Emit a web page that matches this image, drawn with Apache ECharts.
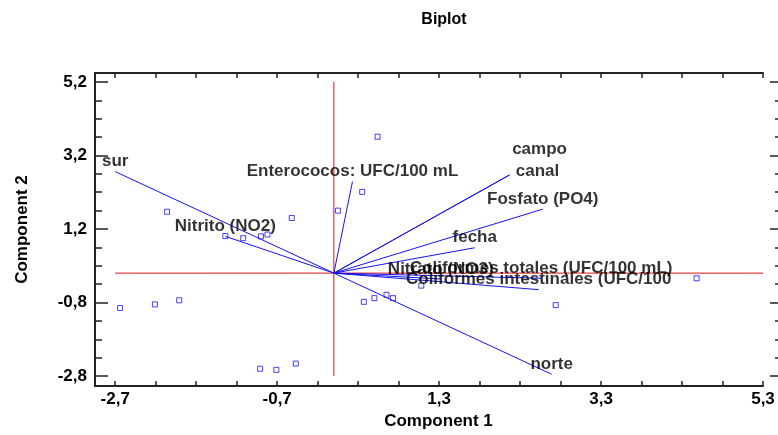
<!DOCTYPE html>
<html><head><meta charset="utf-8">
<script src="https://cdn.jsdelivr.net/npm/echarts@6/dist/echarts.min.js"></script>
<style>html,body{margin:0;padding:0;background:#fff}#c{width:778px;height:435px}</style>
</head><body><div id="c"></div>
<script>
// ---- data ----
const chartTitle = 'Biplot';
const xAxisTitle = 'Component 1';
const yAxisTitle = 'Component 2';
const xTickLabels = [-2.7, -0.7, 1.3, 3.3, 5.3];
const yTickLabels = [-2.8, -0.8, 1.2, 3.2, 5.2];
const xMinorTicks = [-2.7,-2.2,-1.7,-1.2,-0.7,-0.2,0.3,0.8,1.3,1.8,2.3,2.8,3.3,3.8,4.3,4.8,5.3];
const yMinorTicks = [-2.8,-2.3,-1.8,-1.3,-0.8,-0.3,0.2,0.7,1.2,1.7,2.2,2.7,3.2,3.7,4.2,4.7,5.2];
// observation scores
const obsX = [-2.06,-1.34,-1.12,-0.90,-0.82,-0.52,0.05,0.35,0.54,0.37,0.50,0.65,0.73,1.08,2.74,4.48,-2.64,-2.21,-1.91,-0.91,-0.71,-0.47];
const obsY = [1.67,1.01,0.95,1.00,1.05,1.50,1.70,2.21,3.71,-0.78,-0.68,-0.59,-0.68,-0.34,-0.87,-0.14,-0.95,-0.85,-0.74,-2.60,-2.63,-2.46];
// variable loadings (vectors)
const varNames = ['sur','Nitrito (NO2)','Enterococos: UFC/100 mL','campo','canal','Fosfato (PO4)','fecha','Nitrato (NO3)','Coliformes totales (UFC/100 mL)','Coliformes intestinales (UFC/100','norte'];
const varX = [-2.70,-1.34,0.23,2.17,2.17,2.58,1.74,1.32,2.56,2.53,2.69];
const varY = [2.76,1.00,2.49,2.67,2.67,1.74,0.69,-0.16,-0.14,-0.45,-2.75];
// reference cross extents
const refHX = [-2.7, 5.3];
const refVY = [-2.8, 5.2];

// ---- styles ----
const BLUE = '#1414f0', RED = '#e31414', INK = '#000';
const FONT = '"Liberation Sans", Arial, sans-serif';
const labelNudge = { 'campo': [30, -26], 'canal': [28, -4] };
const fmt = v => Number(v).toFixed(1).replace('.', ',');
const XMIN = -2.95, XMAX = 5.3, YMIN = -3.07, YMAX = 5.443;

const series = [];
series.push({ type:'line', data: refHX.map(x => [x, 0]), symbol:'none', silent:true,
  lineStyle:{ color: RED, width: 1 }, z: 1 });
series.push({ type:'line', data: refVY.map(y => [0, y]), symbol:'none', silent:true,
  lineStyle:{ color: RED, width: 1 }, z: 1 });
varNames.forEach((n, i) => {
  series.push({ type:'line', data: [[0, 0], [varX[i], varY[i]]], symbol:'none', silent:true,
    lineStyle:{ color: BLUE, width: 1 }, z: 2 });
});
series.push({ type:'scatter', symbol:'rect', symbolSize: 5,
  data: obsX.map((x, i) => [x, obsY[i]]),
  itemStyle:{ color:'rgba(255,255,255,0)', borderColor: BLUE, borderWidth: 1 }, z: 3 });
series.push({ type:'scatter', symbolSize: 0, z: 4,
  data: varNames.map((n, i) => ({ name: n, value: [varX[i], varY[i]],
    label: { offset: labelNudge[n] || [0, -10] } })),
  label: { show: true, position: 'inside', formatter: p => p.name,
    color: INK, fontFamily: FONT, fontWeight: 'bold', fontSize: 17 } });

const axisLine = { show: true, onZero: false, lineStyle: { color: '#222', width: 2 } };
const noLine = { show: false, onZero: false };
const tickStyle = { color: '#222', width: 1.5 };

const option = {
  animation: false,
  backgroundColor: '#fff',
  title: { text: chartTitle, left: 439, top: 7, textAlign: 'center',
    textStyle: { fontFamily: FONT, fontWeight: 'bold', fontSize: 16, color: INK } },
  grid: { left: 95, right: 15, top: 73, bottom: 47, containLabel: false },
  xAxis: [
    { type:'value', position:'bottom', min: XMIN, max: XMAX,
      name: xAxisTitle, nameLocation:'middle', nameGap: 27,
      nameTextStyle: { fontFamily: FONT, fontWeight:'bold', fontSize: 17, color: INK, padding:[0,0,0,19] },
      axisLine, splitLine:{ show:false },
      axisTick: { show:true, inside:true, length: 5, customValues: xMinorTicks, lineStyle: tickStyle },
      axisLabel: { customValues: xTickLabels, formatter: fmt, margin: 5,
        fontFamily: FONT, fontWeight:'bold', fontSize: 17, color: INK } },
    { type:'value', position:'top', min: XMIN, max: XMAX,
      axisLine, splitLine:{ show:false },
      axisTick: { show:true, inside:true, length: 5, customValues: xMinorTicks, lineStyle: tickStyle },
      axisLabel: { show:false } }
  ],
  yAxis: [
    { type:'value', position:'left', min: YMIN, max: YMAX,
      name: yAxisTitle, nameLocation:'middle', nameGap: 64, nameRotate: 90,
      nameTextStyle: { fontFamily: FONT, fontWeight:'bold', fontSize: 17, color: INK },
      axisLine, splitLine:{ show:false },
      axisTick: { show:true, inside:true, length: 13, customValues: yTickLabels, lineStyle: tickStyle },
      axisLabel: { customValues: yTickLabels, formatter: fmt, margin: 8,
        fontFamily: FONT, fontWeight:'bold', fontSize: 17, color: INK } },
    { type:'value', position:'left', min: YMIN, max: YMAX,
      axisLine: noLine, splitLine:{ show:false },
      axisTick: { show:true, inside:true, length: 7, customValues: yMinorTicks, lineStyle: tickStyle },
      axisLabel: { show:false } },
    { type:'value', position:'right', offset: 15, min: YMIN, max: YMAX,
      axisLine: noLine, splitLine:{ show:false },
      axisTick: { show:true, inside:true, length: 8, customValues: yTickLabels, lineStyle: tickStyle },
      axisLabel: { show:false } },
    { type:'value', position:'right', offset: 15, min: YMIN, max: YMAX,
      axisLine: noLine, splitLine:{ show:false },
      axisTick: { show:true, inside:true, length: 3, customValues: yMinorTicks, lineStyle: tickStyle },
      axisLabel: { show:false } }
  ],
  series
};
const chart = echarts.init(document.getElementById('c'), null, { renderer: 'canvas' });
chart.setOption(option);
</script></body></html>
